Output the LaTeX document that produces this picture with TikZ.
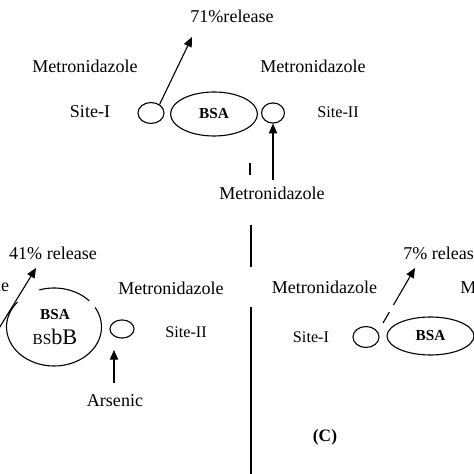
\documentclass[tikz,border=0pt]{standalone}
\usepackage{fontspec}
\setmainfont{Liberation Serif}
\usetikzlibrary{shapes.geometric,arrows.meta,positioning}

\begin{document}
\begin{tikzpicture}[x=0.02532cm, y=0.02532cm,
  lbl/.style={inner sep=0pt, font=\fontsize{13}{15}\selectfont},
  site/.style={inner sep=0pt, font=\fontsize{11.7}{14}\selectfont},
  pocket/.style={draw, ellipse, line width=0.8pt, inner sep=0pt, minimum width=0.66cm, minimum height=0.53cm},
  bsa/.style={draw, ellipse, line width=0.8pt, inner sep=0pt, minimum width=2.2cm, font=\bfseries\fontsize{11}{13}\selectfont},
  link/.style={->, line width=0.8pt},
  >={Triangle[length=7pt,width=6pt]}
]
\clip (0,0) rectangle (474,474);

% top panel
\node[lbl] (rel71) at (232,458) {71\%release};
\node[lbl] (metL) at (85,408) {Metronidazole};
\node[lbl] (metR) at (313,408) {Metronidazole};
\node[lbl] (siteI) at (90,362) {Site-I};
\node[pocket] (cL) at (151,361) {};
\node[bsa, minimum height=1.114cm] (bsaT) at (214,360) {BSA};
\node[pocket, minimum width=0.58cm, minimum height=0.51cm] (cR) at (273,361) {};
\node[site] (siteII) at (338,362) {Site-II};
\node[lbl] (metB) at (272,281) {Metronidazole};
\coordinate (tip71) at (192,437);
\coordinate (fromB) at (273,294);
\draw[link] (cL.45) -- (tip71);
\draw[link] (fromB) -- (cR.south);

% divider
\coordinate (tk1) at (250,311); \coordinate (tk2) at (250,299);
\coordinate (dv1) at (251,249); \coordinate (dv2) at (251,207);
\coordinate (dv3) at (251,167); \coordinate (dv4) at (251,-2);
\draw[line width=0.9pt] (tk1) -- (tk2);
\draw[line width=0.9pt] (dv1) -- (dv2);
\draw[line width=0.9pt] (dv3) -- (dv4);

% lower left panel (arsenic)
\node[lbl] (rel41) at (53,221) {41\% release};
\node[lbl, anchor=east] (metLL) at (9.5,189) {Metronidazole};
\coordinate (bigbsa) at (54,147);
\draw[line width=0.8pt] (bigbsa) ++(42:47.5 and 39) arc[start angle=42, end angle=108, x radius=47.5, y radius=39];
\draw[line width=0.8pt] (bigbsa) ++(140:47.5 and 39) arc[start angle=140, end angle=390, x radius=47.5, y radius=39];
\node[inner sep=0pt, font=\bfseries\fontsize{11}{13}\selectfont] (bsaL) at (55,159) {BSA};
\node[inner sep=0pt] (bsbb) at (55,137) {{\fontsize{11}{13}\selectfont BS}{\fontsize{16}{18}\selectfont bB}};
\node[lbl] (metLR) at (171,186) {Metronidazole};
\node[pocket, minimum width=0.61cm, minimum height=0.46cm] (cS) at (122,145) {};
\node[site] (siteIIb) at (186,142) {Site-II};
\node[lbl] (ars) at (115,73) {Arsenic};
\coordinate (a41s) at (-10,131);
\coordinate (a41e) at (36,206);
\coordinate (arsS) at (114,91);
\coordinate (arsE) at (114,124);
\draw[link] (a41s) -- (a41e);
\draw[link] (arsS) -- (arsE);

% lower right panel (C)
\node[lbl, anchor=west] (rel7) at (403,221) {7\% release};
\node[lbl] (metC) at (324.5,187) {Metronidazole};
\node[lbl, anchor=west] (metCR) at (460,187) {Metronidazole};
\node[site] (siteIc) at (311,137) {Site-I};
\node[pocket] (cC) at (366,137) {};
\node[bsa, minimum height=0.962cm] (bsaC) at (430.5,138) {BSA};
\coordinate (a7s) at (383,151);
\coordinate (a7e) at (415,206);
\draw[link, dash pattern=on 9pt off 6pt on 30pt off 0pt] (a7s) -- (a7e);
\node[inner sep=0pt, font=\bfseries\fontsize{12.5}{15}\selectfont] (lblC) at (325,37) {(C)};
\end{tikzpicture}
\end{document}
